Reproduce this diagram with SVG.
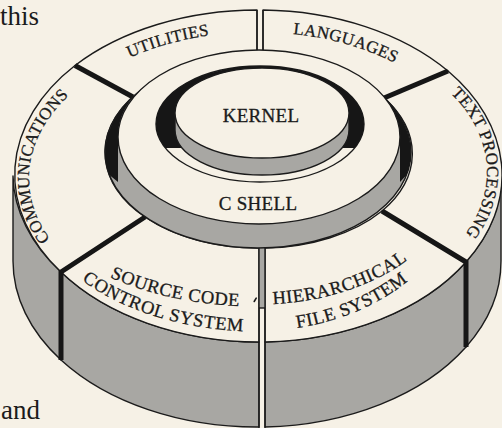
<svg xmlns="http://www.w3.org/2000/svg" width="502" height="428" viewBox="0 0 502 428">
  <style>
    .surf { fill:#f6f1e6; stroke:#1b1b1b; stroke-width:1.4; stroke-linejoin:round; }
    .wall { fill:#a8a7a3; stroke:#1b1b1b; stroke-width:1.4; stroke-linejoin:round; }
    .shade { fill:#161616; }
    .div { stroke:#161616; stroke-width:5; stroke-linecap:butt; fill:none; }
    .thin { stroke:#1b1b1b; stroke-width:1.4; fill:none; }
    .lbl { font-family:"Liberation Serif","DejaVu Serif",serif; fill:#1b1b1b; stroke:#1b1b1b; stroke-width:0.3px; }
    .ring { font-size:17px; letter-spacing:0.3px; }
    .front { font-size:18.5px; letter-spacing:0.5px; }
    .core { font-size:19px; letter-spacing:0.3px; text-anchor:middle; }
    .page { font-size:27px; stroke-width:0; }
  </style>
  <defs>
    <!-- baselines for the curved labels -->
    <path id="pUtil" d="M101.3,73 A224 146 0 0 1 241.4,32.4"/>
    <path id="pLang" d="M272.6,32.4 A224 146 0 0 1 412.7,73"/>
    <path id="pText" d="M433.2,78.1 A230 146 0 0 1 449.9,251.5"/>
    <path id="pComm" d="M68,259.6 A228 146 0 0 1 90.3,78.4"/>
    <path id="pSrc1" d="M110,277.2 A233 130.5 0 0 0 290,305.2"/>
    <path id="pSrc2" d="M82,280.4 A235 152 0 0 0 290,330"/>
    <path id="pHfs1" d="M273,304.1 A199 128.5 0 0 0 440,226.5"/>
    <path id="pHfs2" d="M297,328 A205 155 0 0 0 440,245.8"/>
    <clipPath id="holeClip"><ellipse cx="260" cy="124" rx="104" ry="58"/></clipPath>
  </defs>

  <rect width="502" height="428" fill="#f6f1e6"/>

  <!-- page text around the figure -->
  <text class="lbl page" x="0" y="25">this</text>
  <text class="lbl page" x="1" y="419">and</text>

  <!-- outer ring: one group per segment (side wall + top face + label) -->
  <g id="communications">
    <path class="wall" d="M13,176 A244 166 0 0 0 61,272 L61,360 A244 166 0 0 1 13,261 Z"/>
    <path class="surf" d="M61,272 A244 166 0 0 1 75,65.5 L133,97 A153 96 0 0 0 145,217 Z"/>
    <text class="lbl ring" letter-spacing="0.6"><textPath href="#pComm" startOffset="50%" text-anchor="middle">COMMUNICATIONS</textPath></text>
  </g>
  <g id="source-code-control">
    <path class="wall" d="M61,272 A244 166 0 0 0 259,342 L259,427 A244 166 0 0 1 61,360 Z"/>
    <path class="surf" d="M259,342 A244 166 0 0 1 61,272 L145,217 A153 96 0 0 0 259,248 Z"/>
    <text class="lbl front"><textPath href="#pSrc1">SOURCE CODE</textPath></text>
    <text class="lbl front" letter-spacing="0.2"><textPath href="#pSrc2">CONTROL SYSTEM</textPath></text>
  </g>
  <g id="hierarchical-fs">
    <path class="wall" d="M265,342 A244 166 0 0 0 466,262 L466,347 A244 166 0 0 1 265,427 Z"/>
    <path class="surf" d="M466,262 A244 166 0 0 1 265,342 L265,248 A153 96 0 0 0 382,211 Z"/>
    <text class="lbl front"><textPath href="#pHfs1">HIERARCHICAL</textPath></text>
    <text class="lbl front" letter-spacing="0"><textPath href="#pHfs2">FILE SYSTEM</textPath></text>
  </g>
  <g id="text-processing">
    <path class="wall" d="M466,262 A244 166 0 0 0 501,176 L501,261 A244 166 0 0 1 466,347 Z"/>
    <path class="surf" d="M448,71 A244 166 0 0 1 466,262 L382,211 A153 96 0 0 0 384,98 Z"/>
    <text class="lbl ring"><textPath href="#pText" startOffset="50%" text-anchor="middle">TEXT PROCESSING</textPath></text>
  </g>
  <g id="utilities">
    <path class="surf" d="M75,65.5 A244 166 0 0 1 257,10 L257,56 A153 96 0 0 0 133,97 Z"/>
    <text class="lbl ring"><textPath href="#pUtil" startOffset="50%" text-anchor="middle">UTILITIES</textPath></text>
  </g>
  <g id="languages">
    <path class="surf" d="M263,10 A244 166 0 0 1 448,71 L384,98 A153 96 0 0 0 263,56 Z"/>
    <text class="lbl ring"><textPath href="#pLang" startOffset="50%" text-anchor="middle">LANGUAGES</textPath></text>
  </g>

  <!-- joints between the segments -->
  <g id="dividers">
    <line class="div" x1="75" y1="65.5" x2="133" y2="97"/>
    <line class="div" x1="448" y1="71" x2="384" y2="98"/>
    <path class="div" d="M145,217 L61,272 L61,360"/>
    <path class="div" d="M382,211 L466,262 L466,347"/>
    <rect x="259" y="248" width="6" height="60" fill="#a8a7a3"/>
    <line class="thin" x1="259" y1="308" x2="265" y2="308"/>
    <line class="thin" x1="259" y1="248" x2="259" y2="428"/>
    <line class="thin" x1="265" y1="248" x2="265" y2="428"/>
    <line class="thin" x1="257" y1="10" x2="257" y2="52"/>
    <line class="thin" x1="263" y1="10" x2="263" y2="52"/>
    <path d="M254.2,301.5 L256.2,298.2" stroke="#1b1b1b" stroke-width="1.6" stroke-linecap="round"/>
  </g>

  <!-- C shell: raised ring with its shaded side wall -->
  <g id="c-shell">
    <ellipse class="wall" cx="258" cy="152" rx="153" ry="96"/>
    <path class="shade" d="M133,97 A153 96 0 0 0 109.4,175 L118,182 L118,137 A141 87 0 0 1 133,97 Z"/>
    <path class="shade" d="M384,98 A153 96 0 0 1 406.6,175 L400,182 L400,137 A141 87 0 0 0 384,98 Z"/>
    <ellipse class="surf" cx="259" cy="137" rx="141" ry="87"/>
    <text class="lbl core" x="258" y="210">C SHELL</text>
  </g>

  <!-- kernel: raised core sitting in the hole of the shell -->
  <g id="kernel">
    <ellipse class="surf" cx="260" cy="124" rx="104" ry="58"/>
    <g clip-path="url(#holeClip)">
      <rect class="shade" x="150" y="60" width="220" height="88"/>
      <path class="wall" d="M175,113 L175,130 A87 45 0 0 0 349,130 L349,113 Z"/>
    </g>
    <ellipse class="surf" cx="262" cy="113" rx="87" ry="45"/>
    <text class="lbl core" x="261" y="122">KERNEL</text>
  </g>
</svg>
